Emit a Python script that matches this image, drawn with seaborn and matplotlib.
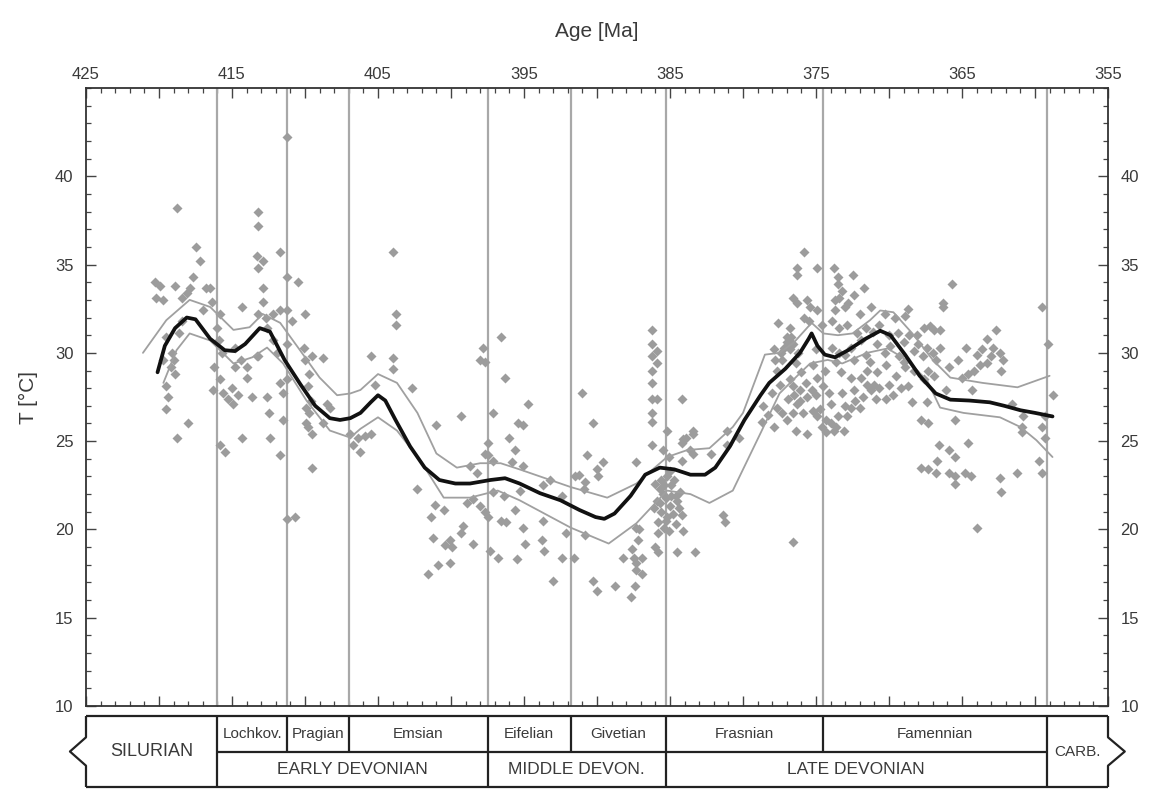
import numpy as np
import pandas as pd
import matplotlib
matplotlib.use("Agg")
import matplotlib.pyplot as plt
import seaborn as sns
from matplotlib.ticker import MultipleLocator, FixedLocator, FuncFormatter

sns.set_style("ticks")
plt.rcParams['font.family'] = ['Liberation Sans', 'DejaVu Sans']

# ---------------- data ----------------
# scatter: age [Ma], temperature [deg C]
pt_age = [
    # Silurian
    418.8, 419.9, 419.7, 418.9, 417.5, 417.2, 417.7, 417.9, 418.1, 416.8, 416.5, 418.4, 416.4,
    419.5, 419.1, 419.0, 419.2, 418.9, 419.5, 419.4, 419.5, 418.0, 418.8, 419.7, 418.6, 418.4,
    417.0, 420.3, 420.2,
    # Lochkovian
    415.8, 416.0, 415.9, 415.7, 416.2, 415.8, 416.3, 415.6, 415.3, 414.9, 415.8, 415.5, 414.3,
    413.6, 412.6, 412.5, 412.4, 414.3, 414.8, 414.8, 414.0, 414.0, 413.3,
    413.2, 413.2, 413.3, 412.9, 413.2, 412.9, 412.9, 413.2, 412.7, 412.2, 411.7, 412.6, 412.2,
    411.9, 413.2, 411.7, 411.2, 415.0, 414.6, 414.4,
    # Pragian
    410.5, 411.2, 410.9, 410.0, 411.2, 410.1, 410.0, 409.5, 408.8, 409.7, 411.2, 411.7, 411.5,
    409.8, 409.9, 409.7, 409.9, 409.5, 411.5, 411.7, 409.5, 411.2, 410.7, 411.2, 408.5, 408.8,
    408.3, 409.6, 409.8,
    # Emsian
    405.5, 404.0, 403.8, 403.8, 404.0, 404.0, 405.2, 402.7, 406.9, 406.4, 405.9, 405.5, 406.7,
    406.2, 399.3, 401.0, 402.3, 401.4, 400.5, 401.2, 400.4, 400.1, 399.9, 401.6, 400.9, 400.1,
    399.2, 399.3, 398.5, 398.9, 398.5, 398.0, 397.7, 397.5, 398.7, 398.2, 397.5, 397.7, 397.8,
    397.7, 398.0, 397.3, 401.1,
    # Eifelian
    397.1, 396.6, 396.3, 397.1, 396.8, 397.1, 396.6, 396.2, 395.6, 396.4, 396.0, 395.6, 395.8,
    395.5, 395.4, 394.7, 395.1, 395.1, 393.7, 393.2, 395.3, 392.4, 393.7, 395.1, 394.9, 393.8,
    393.6, 393.0, 392.4, 392.1, 397.5,
    # Givetian
    391.0, 390.3, 390.7, 390.0, 389.6, 389.9, 391.2, 390.8, 390.9, 391.5, 391.6, 390.8, 390.3,
    390.0, 388.8, 388.2, 387.7, 387.4, 387.6, 387.5, 387.3, 386.9, 387.1, 386.9, 387.3, 387.3,
    387.3, 387.2,
    386.2, 386.2, 385.9, 386.2, 385.9, 386.2, 386.2, 386.2, 385.9, 386.2, 386.2, 386.2,
    386.0, 385.7, 385.5, 385.9, 385.3, 385.0, 385.6, 385.2, 384.8, 384.5, 384.3, 384.9, 385.8,
    385.4, 384.6, 385.1, 384.2, 386.1, 385.6, 384.7, 385.0, 384.4, 385.3, 385.8, 384.1,
    385.4, 384.9, 385.7, 384.6, 385.2,
    # early Frasnian
    384.2, 385.2, 385.5, 385.1, 384.1, 383.4, 383.6, 383.4, 383.9, 384.2, 383.4, 384.2, 384.5,
    383.3, 386.0, 385.8,
    381.1, 381.1, 381.4, 381.2, 376.6, 382.2, 380.3,
    # late Frasnian cluster
    375.8, 376.3, 376.3, 374.9, 376.6, 376.3, 375.6, 375.4,
    377.6, 376.8, 377.0, 376.6, 376.2, 376.8, 375.8, 375.5, 374.9, 374.6,
    377.4, 377.3, 377.7, 376.8, 376.6, 376.1, 375.6, 376.3, 376.6, 376.1, 377.0, 377.7, 378.3,
    377.3, 375.6, 374.9, 374.5, 374.1, 374.0, 374.3, 374.0, 373.8, 373.6, 374.4, 375.2, 375.0,
    377.0, 376.7, 377.2, 377.9, 377.8, 376.4, 376.0, 375.7, 375.3, 375.0, 374.7, 374.9, 375.2,
    375.9, 376.5, 376.9, 377.5, 378.0, 378.6, 378.7, 377.9, 376.4, 374.6,
    # Famennian
    373.4, 373.2, 372.8, 372.4, 373.0, 373.8, 373.5, 373.5, 372.5, 371.7, 373.7, 373.7,
    373.1, 372.9, 372.6, 372.3, 373.2, 373.3, 372.6, 371.9, 371.5, 371.5, 370.8, 371.0, 372.4,
    371.2, 370.7, 373.4, 372.6, 371.9, 373.4, 372.9, 372.2, 371.6, 373.9, 373.9, 371.1, 370.7,
    370.0, 369.4, 369.9, 369.3, 369.0, 370.2, 371.3, 370.0, 369.5, 368.9, 370.3, 369.6,
    374.3, 373.5, 373.0, 372.0, 371.8, 370.9, 371.6, 372.4, 373.0, 373.6, 372.0, 371.2, 370.8,
    370.3, 369.0, 368.6, 368.3, 367.7, 367.6, 366.9, 365.3, 364.0, 363.6, 362.9,
    365.7, 366.3, 366.3, 368.7, 368.9, 359.5, 367.6, 367.2, 366.9, 366.5, 368.1, 363.3, 362.7,
    364.7, 359.1, 362.4, 362.2, 362.3, 363.0, 363.3, 363.8, 364.2, 364.6, 365.0, 365.9, 366.5,
    367.0, 367.4, 368.0, 368.3, 366.8, 367.3, 366.1, 364.3, 368.4, 367.4, 367.8, 367.3, 365.5,
    364.6, 366.6, 366.7, 365.9, 365.5, 367.8, 367.3, 366.8, 365.9, 365.5, 364.8, 364.4, 365.5,
    362.4, 362.3, 361.2, 359.5, 360.9, 360.9, 359.7, 359.5, 359.3, 358.8, 360.8, 359.3, 361.6,
    368.7, 369.2, 370.2, 369.7, 364.0,
]
pt_temp = [
    # Silurian
    38.2, 33.8, 33.0, 33.8, 36.0, 35.2, 34.3, 33.7, 33.4, 33.7, 33.7, 33.1, 32.9,
    30.9, 30.0, 29.6, 29.2, 28.8, 28.1, 27.5, 26.8, 26.0, 25.2, 29.6, 31.1, 31.8,
    32.4, 34.0, 33.1,
    # Lochkovian
    32.2, 31.4, 30.7, 30.0, 29.2, 28.5, 27.9, 27.7, 27.4, 27.1, 24.8, 24.4, 25.2,
    27.5, 27.5, 26.6, 25.2, 32.6, 30.3, 29.2, 29.2, 28.6, 29.8,
    38.0, 37.2, 35.5, 35.2, 34.8, 33.7, 32.9, 32.2, 32.0, 32.2, 32.4, 31.4, 30.7,
    30.0, 29.8, 35.7, 34.3, 28.0, 27.6, 29.6,
    # Pragian
    34.0, 32.4, 31.8, 32.2, 30.5, 30.3, 29.6, 29.8, 29.7, 28.8, 28.5, 28.3, 27.7,
    28.1, 26.9, 26.6, 26.0, 25.4, 26.2, 24.2, 23.5, 20.6, 20.7, 42.2, 27.1, 26.0,
    26.9, 27.3, 25.8,
    # Emsian
    29.8, 35.7, 32.2, 31.6, 29.7, 29.1, 28.2, 28.0, 25.4, 25.2, 25.3, 25.4, 24.8,
    24.4, 26.4, 25.9, 22.3, 20.7, 21.1, 19.5, 19.1, 19.4, 19.0, 17.5, 18.0, 18.1,
    20.2, 19.8, 19.2, 21.5, 21.7, 21.3, 21.0, 20.7, 23.6, 23.2, 24.9, 24.3, 30.3,
    29.5, 29.6, 18.8, 21.4,
    # Eifelian
    23.9, 30.9, 28.6, 26.6, 18.4, 22.1, 20.5, 20.4, 21.1, 21.9, 25.2, 24.5, 23.8,
    18.3, 26.0, 27.1, 25.9, 23.6, 22.5, 22.8, 22.2, 21.9, 20.5, 20.1, 19.2, 19.4,
    18.8, 17.1, 18.4, 19.8, 24.2,
    # Givetian
    27.7, 26.0, 24.2, 23.4, 23.8, 23.0, 23.1, 22.7, 22.3, 23.0, 18.4, 19.7, 17.1,
    16.5, 16.8, 18.4, 16.2, 16.8, 18.9, 18.4, 18.1, 18.4, 20.0, 17.5, 23.8, 17.7,
    20.1, 19.4,
    31.3, 30.5, 30.1, 29.8, 29.4, 29.0, 28.3, 27.4, 27.4, 26.6, 26.1, 24.8,
    22.6, 22.3, 22.0, 21.6, 21.8, 21.3, 21.0, 20.7, 20.9, 21.6, 22.1, 22.5, 20.4,
    20.1, 20.3, 19.9, 20.8, 21.2, 22.8, 22.8, 23.3, 21.2, 20.5, 19.8, 19.9,
    22.5, 21.9, 21.5, 21.9, 23.0,
    # early Frasnian
    27.4, 25.6, 24.5, 24.1, 25.1, 25.4, 24.5, 25.6, 25.2, 24.9, 24.3, 23.9, 18.7,
    18.7, 19.0, 18.7,
    25.6, 24.8, 20.8, 20.4, 19.3, 24.3, 25.2,
    # late Frasnian cluster
    35.7, 34.8, 34.4, 34.8, 33.1, 32.8, 33.0, 32.6,
    31.7, 31.4, 30.9, 30.5, 30.0, 30.2, 32.0, 31.8, 32.4, 31.6,
    30.0, 29.6, 29.0, 28.5, 28.1, 27.9, 27.5, 27.1, 26.6, 27.3, 26.2, 26.9, 26.5,
    26.6, 25.4, 28.6, 28.1, 27.7, 27.1, 26.2, 26.0, 25.6, 25.8, 29.0, 29.3, 30.2,
    30.6, 30.9, 30.3, 30.2, 29.6, 29.4, 28.9, 28.3, 27.9, 27.6, 26.8, 26.4, 26.7,
    26.6, 27.6, 27.4, 28.2, 27.7, 27.0, 26.1, 25.8, 25.6, 25.8,
    # Famennian
    33.1, 33.5, 32.8, 33.3, 32.6, 34.8, 34.3, 33.9, 34.4, 33.7, 33.0, 32.4,
    25.6, 26.4, 26.9, 27.3, 27.7, 28.9, 28.6, 28.6, 29.0, 28.2, 28.9, 28.2, 27.9,
    27.9, 28.0, 30.0, 30.3, 30.7, 31.4, 31.6, 31.1, 31.4, 31.8, 30.3, 31.2, 31.6,
    31.0, 31.1, 30.4, 29.8, 29.5, 29.3, 29.5, 28.2, 28.7, 29.2, 32.2, 32.0,
    25.5, 26.4, 27.0, 26.9, 27.5, 27.4, 29.9, 29.6, 29.9, 29.5, 32.2, 32.6, 30.5,
    30.0, 30.6, 31.0, 29.0, 29.8, 28.5, 28.7, 29.6, 29.9, 30.2, 30.3,
    33.9, 32.8, 32.6, 32.5, 32.1, 32.6, 31.4, 31.5, 31.3, 31.3, 31.0, 30.8, 31.3,
    30.3, 30.5, 30.0, 29.6, 29.0, 29.8, 29.4, 29.3, 29.0, 28.8, 28.6, 29.2, 30.3,
    30.0, 30.3, 30.5, 30.1, 29.6, 29.0, 27.9, 27.9, 27.2, 27.2, 26.2, 26.0, 26.2,
    24.9, 24.8, 23.9, 24.5, 24.1, 23.5, 23.4, 23.2, 23.2, 23.0, 23.2, 23.0, 22.6,
    22.9, 22.1, 23.2, 23.2, 25.5, 25.8, 23.9, 25.8, 25.2, 27.6, 26.4, 26.4, 27.1,
    28.1, 28.0, 27.4, 27.6, 20.1,
]

# smoothed mean curve
mean_age = [420.1, 419.6, 418.9, 418.1, 417.5, 416.5, 415.5, 414.8, 414.1, 413.1, 412.4, 411.4,
            410.3, 409.3, 408.3, 407.6, 406.9, 406.2, 405.5, 405.0, 404.5, 403.8, 402.8, 401.8,
            400.8, 399.7, 398.7, 397.3, 396.3, 395.3, 393.9, 392.5, 391.2, 390.1, 389.5, 388.8,
            387.7, 386.7, 385.7, 384.7, 383.6, 382.6, 381.9, 380.9, 379.9, 378.8, 378.2, 377.1,
            376.1, 375.5, 375.3, 374.9, 374.4, 373.7, 372.8, 371.6, 370.6, 369.9, 368.9, 367.9,
            366.8, 365.8, 364.5, 363.1, 362.1, 361.0, 360.0, 358.8]
mean_temp = [28.9, 30.4, 31.4, 32.0, 31.9, 30.8, 30.15, 30.1, 30.5, 31.4, 31.2, 29.6,
             28.2, 27.0, 26.3, 26.2, 26.3, 26.6, 27.2, 27.6, 27.3, 26.2, 24.7, 23.5,
             22.8, 22.6, 22.6, 22.8, 22.9, 22.6, 22.05, 21.65, 21.1, 20.7, 20.6, 20.9,
             21.9, 23.1, 23.5, 23.4, 23.1, 23.1, 23.5, 24.7, 26.2, 27.6, 28.3, 29.1,
             30.0, 30.8, 31.1, 30.4, 29.9, 29.75, 30.15, 30.8, 31.25, 31.0, 29.9, 28.7,
             27.7, 27.35, 27.3, 27.2, 27.0, 26.75, 26.6, 26.4]

# upper confidence bound
upper_age = [421.1, 419.5, 417.9, 416.5, 414.9, 413.8, 412.9, 411.7, 410.3, 409.0, 407.8, 406.9,
             406.2, 405.0, 403.7, 402.3, 401.0, 399.6, 398.0, 396.6, 395.3, 391.8, 389.3, 387.3,
             385.2, 383.8, 382.3, 380.7, 380.0, 378.5, 377.5, 376.5, 375.3, 374.5, 373.5, 372.5,
             371.3, 370.6, 369.7, 368.4, 367.0, 365.8, 363.6, 361.2, 359.0]
upper_temp = [30.0, 31.85, 33.0, 32.6, 31.3, 31.45, 32.2, 31.7, 30.1, 28.6, 27.6, 27.7,
              27.9, 28.8, 28.3, 26.6, 24.3, 23.5, 23.75, 23.75, 23.4, 22.4, 21.8, 22.6,
              24.1, 24.5, 24.6, 25.8, 26.6, 29.9, 30.0, 30.6, 31.7, 31.1, 31.0, 31.1,
              31.85, 32.4, 32.3, 31.1, 29.6, 28.6, 28.3, 28.05, 28.7]

# lower confidence bound
lower_age = [419.7, 418.8, 417.9, 416.5, 414.9, 413.6, 412.6, 411.5, 409.9, 408.3, 406.9, 406.2,
             405.0, 403.7, 402.1, 400.5, 398.7, 396.8, 395.3, 391.8, 389.2, 387.3, 385.2, 383.6,
             382.3, 380.7, 378.8, 377.5, 376.1, 375.4, 374.2, 373.2, 371.5, 370.1, 368.8, 367.4,
             366.5, 364.9, 362.4, 361.0, 359.9, 358.8]
lower_temp = [28.3, 30.15, 31.1, 30.7, 29.4, 29.75, 30.3, 29.4, 27.3, 25.6, 25.2, 25.7,
              26.35, 25.6, 23.9, 21.8, 21.8, 22.2, 21.65, 20.1, 19.2, 20.35, 22.2, 22.0,
              21.5, 22.2, 25.45, 27.7, 28.85, 29.4, 29.6, 29.4, 30.0, 30.25, 29.6, 28.45,
              26.9, 26.6, 26.35, 25.8, 25.05, 24.1]

# stratigraphy
boundaries = [416.0, 411.2, 407.0, 397.5, 391.8, 385.3, 374.5, 359.2]
stage_names = ["Lochkov.", "Pragian", "Emsian", "Eifelian", "Givetian", "Frasnian", "Famennian"]
series_names = ["EARLY DEVONIAN", "MIDDLE DEVON.", "LATE DEVONIAN"]
series_bounds = [416.0, 397.5, 385.3, 359.2]
xtick_labels = [425, 415, 405, 395, 385, 375, 365, 355]
ytick_labels = [10, 15, 20, 25, 30, 35, 40]

# ---------------- figure ----------------
W, H = 1149, 792
fig = plt.figure(figsize=(W / 100, H / 100), dpi=100)
ax = fig.add_axes([86 / W, 1 - 706 / H, (1108 - 86) / W, (706 - 88) / H])

text_col = "#3a3a3a"
grey_line = "#a8a8a8"

for b in boundaries:
    ax.axvline(b, color=grey_line, lw=1.6, zorder=1)

pts = pd.DataFrame({"age": pt_age, "temp": pt_temp})
sns.scatterplot(data=pts, x="age", y="temp", ax=ax, marker="D", s=26, color="#9c9c9c",
                linewidth=0, zorder=2, legend=False)

up = pd.DataFrame({"age": upper_age, "temp": upper_temp})
lo = pd.DataFrame({"age": lower_age, "temp": lower_temp})
mn = pd.DataFrame({"age": mean_age, "temp": mean_temp})
sns.lineplot(data=up, x="age", y="temp", ax=ax, color="#a0a0a0", lw=1.3, estimator=None, zorder=3)
sns.lineplot(data=lo, x="age", y="temp", ax=ax, color="#a0a0a0", lw=1.3, estimator=None, zorder=3)
sns.lineplot(data=mn, x="age", y="temp", ax=ax, color="#111111", lw=2.7, estimator=None, zorder=4)

ax.set_xlim(425, 355)
ax.set_ylim(10, 45)

ax.xaxis.set_major_locator(MultipleLocator(5))
ax.xaxis.set_minor_locator(MultipleLocator(1))
ax.xaxis.set_major_formatter(FuncFormatter(
    lambda v, p: str(int(round(v))) if int(round(v)) in xtick_labels else ""))
ax.yaxis.set_major_locator(FixedLocator(ytick_labels))
ax.yaxis.set_minor_locator(MultipleLocator(1))

ax.tick_params(axis="both", which="both", direction="in", top=True, bottom=True,
               left=True, right=True, colors="#444444", labelcolor=text_col)
ax.tick_params(axis="x", which="both", labeltop=True, labelbottom=False)
ax.tick_params(axis="y", which="both", labelleft=True, labelright=True)
ax.tick_params(which="major", length=7, width=1.0, labelsize=12)
ax.tick_params(axis="x", which="major", pad=4)
ax.tick_params(axis="y", which="major", pad=9)
ax.tick_params(which="minor", length=3.5, width=0.9)
for s in ax.spines.values():
    s.set_color("#333333")
    s.set_linewidth(1.3)

ax.set_xlabel("Age [Ma]", fontsize=15, color=text_col, labelpad=22)
ax.xaxis.set_label_position("top")
ax.set_ylabel("T [°C]", fontsize=15, color=text_col, labelpad=12)

# ---------------- stratigraphic table ----------------
tax = fig.add_axes([86 / W, 1 - 787 / H, (1108 - 86) / W, (787 - 716) / H])
tax.set_xlim(425, 355)
tax.set_ylim(0, 2)
tax.axis("off")
kw = dict(color="#222222", lw=1.6, clip_on=False, solid_capstyle="butt")

# outer box with notches
tax.plot([425, 355], [2, 2], **kw)
tax.plot([425, 355], [0, 0], **kw)
tax.plot([425, 425, 426.1, 425, 425], [2, 1.4, 1.0, 0.6, 0], **kw)
tax.plot([355, 355, 353.85, 355, 355], [2, 1.4, 1.0, 0.6, 0], **kw)
# full height lines
for b in [416.0, 397.5, 385.3, 359.2]:
    tax.plot([b, b], [0, 2], **kw)
# stage-only lines
for b in [411.2, 407.0, 391.8, 374.5]:
    tax.plot([b, b], [1, 2], **kw)
tax.plot([416.0, 359.2], [1, 1], **kw)

for i, name in enumerate(stage_names):
    xc = (boundaries[i] + boundaries[i + 1]) / 2
    tax.text(xc, 1.5, name, ha="center", va="center", fontsize=11, color=text_col)
for i, name in enumerate(series_names):
    xc = (series_bounds[i] + series_bounds[i + 1]) / 2
    tax.text(xc, 0.5, name, ha="center", va="center", fontsize=12.5, color=text_col)
tax.text((425 + 416) / 2, 1.0, "SILURIAN", ha="center", va="center", fontsize=13, color=text_col)
tax.text((359.2 + 355) / 2, 1.0, "CARB.", ha="center", va="center", fontsize=11, color=text_col)

fig.savefig("out.png", dpi=100, facecolor="white")
